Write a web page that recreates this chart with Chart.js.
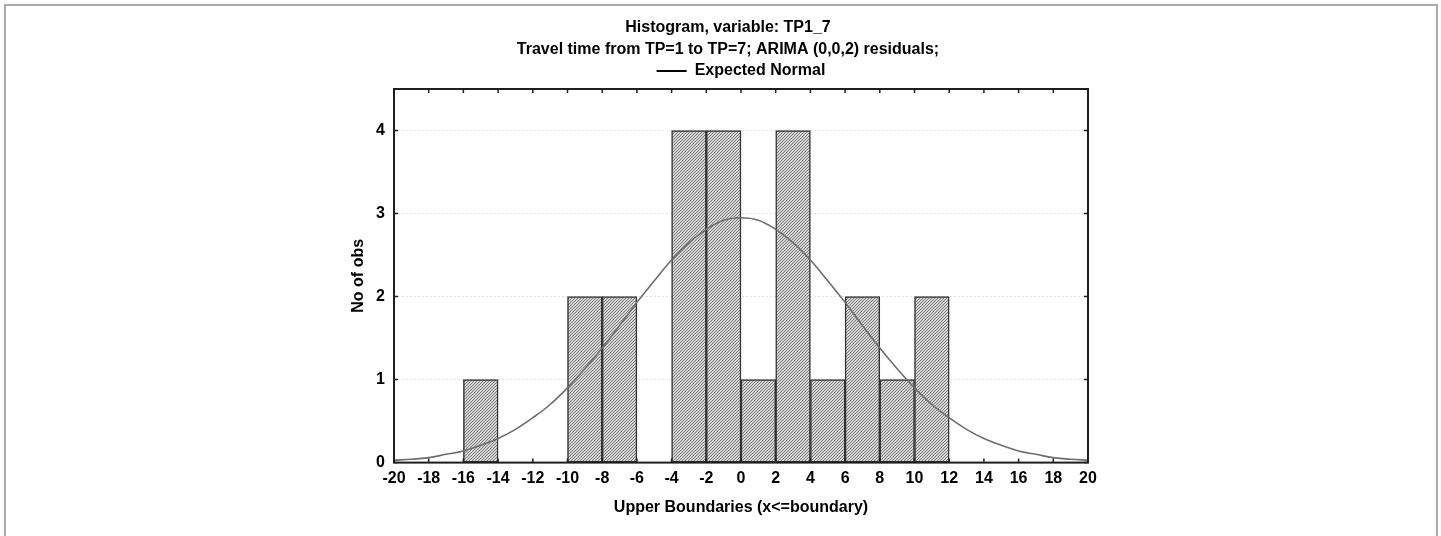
<!DOCTYPE html>
<html>
<head>
<meta charset="utf-8">
<script src="https://cdn.jsdelivr.net/npm/chart.js@4.4.1/dist/chart.umd.min.js"></script>
<style>
html, body { margin: 0; padding: 0; background: #fff; overflow: hidden; }
#frame { position: absolute; left: 4px; top: 4px; width: 1430px; height: 560px; border: 2px solid #ababaf; border-bottom: none; }
#wrap { position: absolute; left: 0; top: 0; width: 1441px; height: 536px; }
</style>
</head>
<body>
<div id="frame"></div>
<div id="wrap"><canvas id="hist" width="1441" height="536"></canvas></div>
<script>
// histogram bins (upper boundary of each 2-wide bin) and counts
var binUpper = [-14, -8, -6, -2, 0, 2, 4, 6, 8, 10, 12];
var binCount = [1, 2, 2, 4, 4, 1, 4, 1, 2, 1, 2];
var binWidth = 2;

// expected normal curve
var curveX = [-20, -19, -18, -17, -16, -15, -14, -13, -12, -11, -10, -9, -8, -7, -6, -5, -4, -3, -2, -1,
              0, 1, 2, 3, 4, 5, 6, 7, 8, 9, 10, 11, 12, 13, 14, 15, 16, 17, 18, 19, 20];
var curveY = [0.03, 0.04, 0.06, 0.10, 0.14, 0.21, 0.29, 0.40, 0.54, 0.70, 0.90, 1.13, 1.38, 1.65, 1.93, 2.19, 2.44, 2.65, 2.81, 2.92,
              2.95, 2.92, 2.81, 2.65, 2.44, 2.19, 1.93, 1.65, 1.38, 1.13, 0.90, 0.70, 0.54, 0.40, 0.29, 0.21, 0.14, 0.10, 0.06, 0.04, 0.03];

var xTicks = [-20, -18, -16, -14, -12, -10, -8, -6, -4, -2, 0, 2, 4, 6, 8, 10, 12, 14, 16, 18, 20];
var yTicks = [0, 1, 2, 3, 4];

var FONT = '"Liberation Sans", Arial, sans-serif';

function hatch() {
    var c = document.createElement('canvas');
    c.width = 3; c.height = 3;
    var g = c.getContext('2d');
    g.fillStyle = '#d4d4d4';
    g.fillRect(0, 0, 3, 3);
    g.strokeStyle = '#747474';
    g.lineWidth = 0.9;
    g.beginPath();
    g.moveTo(0, 3); g.lineTo(3, 0);
    g.moveTo(-1, 1); g.lineTo(1, -1);
    g.moveTo(2, 4); g.lineTo(4, 2);
    g.stroke();
    return g.createPattern(c, 'repeat');
}

// plot frame + inward tick marks on all four sides
var frameTicks = {
    id: 'frameTicks',
    afterDatasetsDraw: function (chart) {
        var ctx = chart.ctx, a = chart.chartArea;
        var xs = chart.scales.x, ys = chart.scales.y;
        ctx.save();
        ctx.strokeStyle = '#1e1e1e';
        ctx.lineWidth = 1.5;
        ctx.beginPath();
        xTicks.forEach(function (v) {
            var px = xs.getPixelForValue(v);
            ctx.moveTo(px, a.bottom); ctx.lineTo(px, a.bottom - 4);
            ctx.moveTo(px, a.top); ctx.lineTo(px, a.top + 4);
        });
        yTicks.forEach(function (v) {
            var py = ys.getPixelForValue(v);
            ctx.moveTo(a.left, py); ctx.lineTo(a.left + 4, py);
            ctx.moveTo(a.right, py); ctx.lineTo(a.right - 4, py);
        });
        ctx.stroke();
        ctx.lineWidth = 2;
        ctx.strokeRect(a.left, a.top, a.right - a.left, a.bottom - a.top);
        ctx.restore();
    }
};

var bars = binUpper.map(function (u, i) { return { x: u - binWidth / 2, y: binCount[i] }; });
var curve = curveX.map(function (x, i) { return { x: x, y: curveY[i] }; });

var ctx = document.getElementById('hist').getContext('2d');
var chart = new Chart(ctx, {
    type: 'bar',
    data: {
        datasets: [{
            type: 'line',
            label: 'Expected Normal',
            data: curve,
            borderColor: '#6e6e6e',
            borderWidth: 1.6,
            pointRadius: 0,
            tension: 0.4,
            fill: false,
            order: 1
        }, {
            type: 'bar',
            label: 'No of obs',
            data: bars,
            backgroundColor: hatch(),
            borderColor: '#333333',
            borderWidth: 1.5,
            borderSkipped: false,
            barPercentage: 1,
            categoryPercentage: 1,
            order: 2
        }]
    },
    options: {
        responsive: false,
        animation: false,
        devicePixelRatio: 1,
        layout: { padding: { left: 368, right: 353, top: 5, bottom: 10 } },
        plugins: {
            tooltip: { enabled: false },
            title: {
                display: true,
                text: ['Histogram, variable: TP1_7', 'Travel time from TP=1 to TP=7; ARIMA (0,0,2) residuals;'],
                color: '#000',
                font: { family: FONT, size: 16, weight: 'bold', lineHeight: 22 / 16 },
                padding: { top: 12, bottom: -2 }
            },
            legend: {
                display: true,
                position: 'top',
                fullSize: false,
                labels: {
                    usePointStyle: true,
                    pointStyle: 'line',
                    pointStyleWidth: 30,
                    padding: 4,
                    color: '#000',
                    font: { family: FONT, size: 16, weight: 'bold' },
                    filter: function (item) { return item.datasetIndex === 0; },
                    generateLabels: function (chart) {
                        var items = Chart.defaults.plugins.legend.labels.generateLabels(chart);
                        items.forEach(function (it) { it.strokeStyle = '#000'; it.lineWidth = 2; });
                        return items;
                    }
                }
            }
        },
        scales: {
            x: {
                type: 'linear',
                position: 'bottom',
                min: -20,
                max: 20,
                offset: false,
                afterBuildTicks: function (scale) { scale.ticks = xTicks.map(function (v) { return { value: v }; }); },
                grid: { display: false, drawTicks: false, tickLength: 0 },
                border: { display: false },
                ticks: {
                    autoSkip: false, maxRotation: 0, padding: 6, color: '#000',
                    font: { family: FONT, size: 16, weight: 'bold' }
                },
                title: {
                    display: true,
                    text: 'Upper Boundaries (x<=boundary)',
                    color: '#000',
                    font: { family: FONT, size: 16, weight: 'bold' },
                    padding: { top: 4, bottom: 9 }
                }
            },
            y: {
                min: 0,
                max: 4.5,
                afterBuildTicks: function (scale) { scale.ticks = yTicks.map(function (v) { return { value: v }; }); },
                grid: { color: '#e2e2e2', drawTicks: false, tickLength: 0 },
                border: { display: false, dash: [2, 2] },
                ticks: {
                    padding: 9, color: '#000',
                    font: { family: FONT, size: 16, weight: 'bold' }
                },
                title: {
                    display: true,
                    text: 'No of obs',
                    color: '#000',
                    font: { family: FONT, size: 16, weight: 'bold' },
                    padding: { top: -18.6, bottom: -1.5 }
                }
            }
        }
    },
    plugins: [frameTicks]
});
</script>
</body>
</html>
